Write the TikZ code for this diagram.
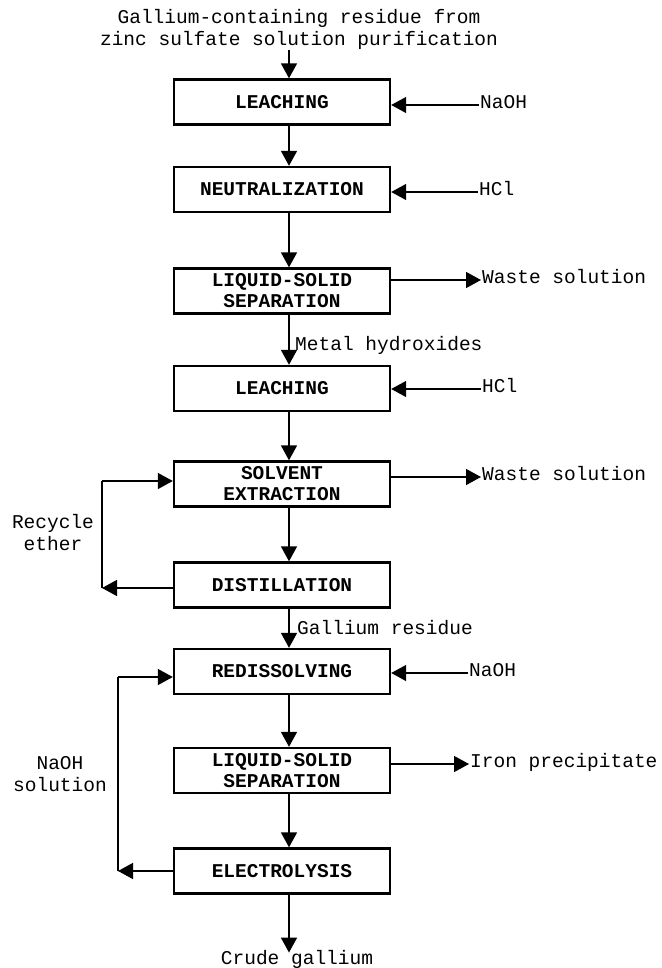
\documentclass[tikz,border=0pt]{standalone}
\usepackage{fontspec}
\setmonofont{Liberation Mono}
\usetikzlibrary{arrows.meta}
\begin{document}
\begin{tikzpicture}[x=1pt,y=-1pt,
  stage/.style={draw,line width=2.4pt,minimum width=216pt,minimum height=45pt,inner sep=3pt,align=center,
    font=\ttfamily\bfseries\fontsize{19.5}{21}\selectfont},
  lbl/.style={inner sep=1pt,align=center,font=\ttfamily\fontsize{19.5}{22}\selectfont},
  tag/.style={lbl,text height=11pt,text depth=3.5pt},
  flow/.style={line width=1.8pt,-{Triangle[length=15pt,width=16pt]}},
  side/.style={line width=1.4pt,-{Triangle[length=15pt,width=16pt]}},
  loop/.style={line width=1.4pt}]
\useasboundingbox (0,0) rectangle (661,968);
\node[lbl] (src) at (299,29) {Gallium-containing residue from\\zinc sulfate solution purification};
\node[stage] (leach1) at (282,102) {LEACHING};
\node[stage] (neut) at (282,189.5) {NEUTRALIZATION};
\node[stage] (sep1) at (282,291) {LIQUID-SOLID\\SEPARATION};
\node[stage] (leach2) at (282,388.5) {LEACHING};
\node[stage] (solv) at (282,484) {SOLVENT\\EXTRACTION};
\node[stage] (dist) at (282,585) {DISTILLATION};
\node[stage] (rediss) at (282,671.5) {REDISSOLVING};
\node[stage] (sep2) at (282,770.5) {LIQUID-SOLID\\SEPARATION};
\node[stage] (elec) at (282,871) {ELECTROLYSIS};
\node[tag] (crude) at (297,961) {Crude gallium};
\node[tag,anchor=west] (naoh1) at (479,105) {NaOH};
\node[tag,anchor=west] (hcl1) at (478,192) {HCl};
\node[tag,anchor=west] (waste1) at (481,280) {Waste solution};
\node[tag,anchor=west] (hcl2) at (481,389) {HCl};
\node[tag,anchor=west] (waste2) at (481,477) {Waste solution};
\node[tag,anchor=west] (naoh2) at (468,673) {NaOH};
\node[tag,anchor=west] (iron) at (469,764) {Iron precipitate};
\node[tag,anchor=west] (hydrox) at (294,347) {Metal hydroxides};
\node[tag,anchor=west] (garesid) at (296,631) {Gallium residue};
\node[lbl] (recyc) at (53,533) {Recycle\\ether};
\node[lbl] (naohsol) at (60,774) {NaOH\\solution};
\coordinate (r1) at (102,481);
\coordinate (r2) at (102,588);
\coordinate (s1) at (118,677);
\coordinate (s2) at (118,871);
\draw[flow] ([xshift=7]leach1.north |- src.south) -- ([xshift=7]leach1.north);
\draw[flow] ([xshift=7]leach1.south) -- ([xshift=7]neut.north);
\draw[flow] ([xshift=7]neut.south) -- ([xshift=7]sep1.north);
\draw[flow] ([xshift=7]sep1.south) -- ([xshift=7]leach2.north);
\draw[flow] ([xshift=7]leach2.south) -- ([xshift=7]solv.north);
\draw[flow] ([xshift=7]solv.south) -- ([xshift=7]dist.north);
\draw[flow] ([xshift=7]dist.south) -- ([xshift=7]rediss.north);
\draw[flow] ([xshift=7]rediss.south) -- ([xshift=7]sep2.north);
\draw[flow] ([xshift=7]sep2.south) -- ([xshift=7]elec.north);
\draw[flow] ([xshift=7]elec.south) -- ([xshift=7]elec.south |- crude.north);
\draw[side] (naoh1.west) -- (naoh1.west -| leach1.east);
\draw[side] (hcl1.west) -- (hcl1.west -| neut.east);
\draw[side] (waste1.west -| sep1.east) -- (waste1.west);
\draw[side] (hcl2.west) -- (hcl2.west -| leach2.east);
\draw[side] (waste2.west -| solv.east) -- (waste2.west);
\draw[side] (naoh2.west) -- (naoh2.west -| rediss.east);
\draw[side] (iron.west -| sep2.east) -- (iron.west);
\draw[side] (r2 -| dist.west) -- (r2);
\draw[loop] (r2) -- (r1);
\draw[side] (r1) -- (r1 -| solv.west);
\draw[side] (s2 -| elec.west) -- (s2);
\draw[loop] (s2) -- (s1);
\draw[side] (s1) -- (s1 -| rediss.west);
\end{tikzpicture}
\end{document}
